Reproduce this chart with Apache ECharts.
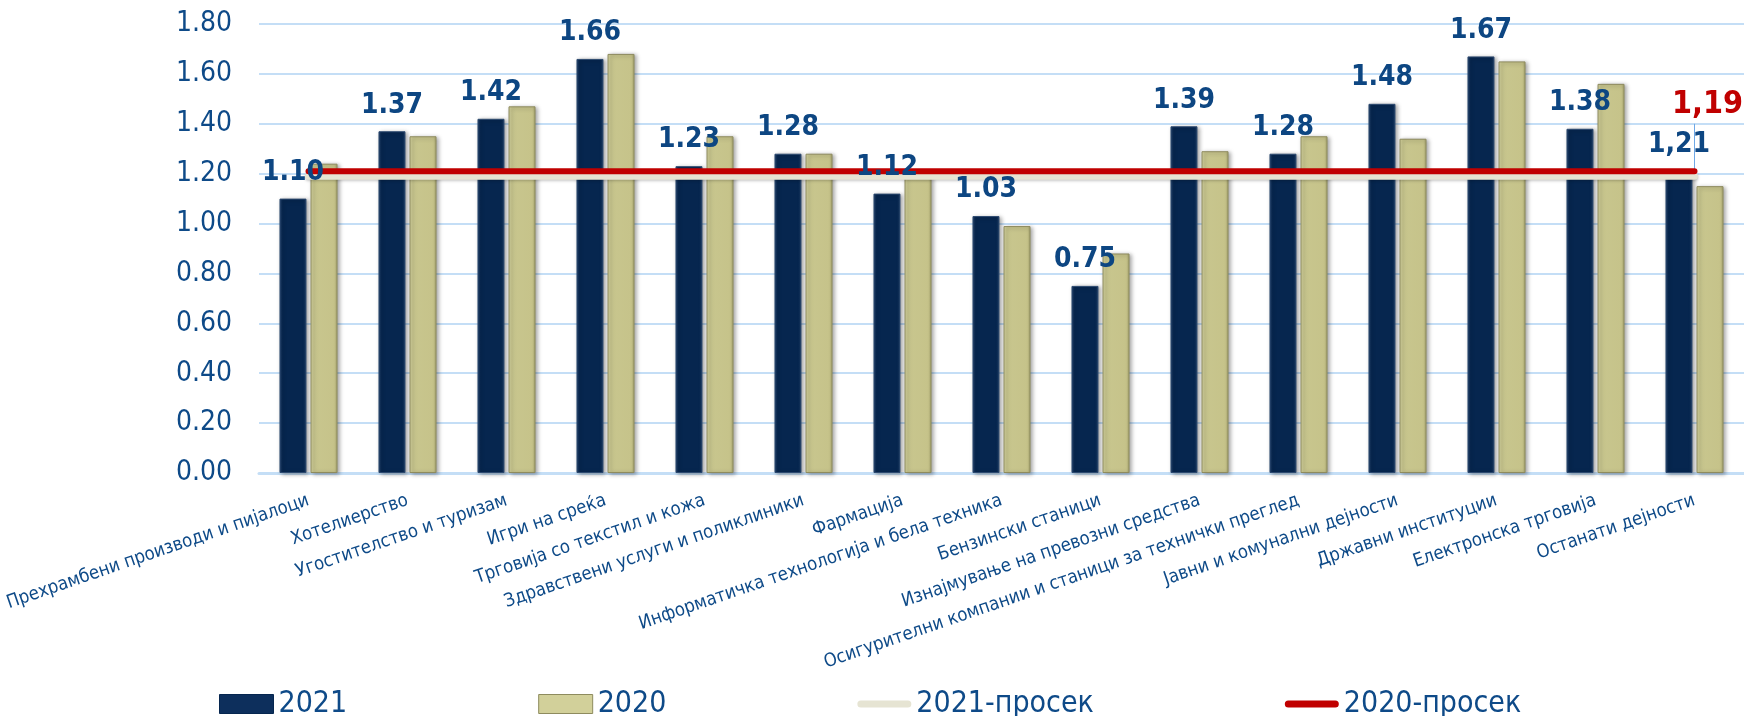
<!DOCTYPE html>
<html>
<head>
<meta charset="utf-8">
<script src="https://cdn.jsdelivr.net/npm/echarts@6/dist/echarts.min.js"></script>
<style>
html,body{margin:0;padding:0;background:#fff;}
#chart{width:1744px;height:716px;}
</style>
</head>
<body>
<div id="chart"></div>
<script>
const categories = [
  'Прехрамбени производи и пијалоци',
  'Хотелиерство',
  'Угостителство и туризам',
  'Игри на среќа',
  'Трговија со текстил и кожа',
  'Здравствени услуги и поликлиники',
  'Фармација',
  'Информатичка технологија и бела техника',
  'Бензински станици',
  'Изнајмување на превозни средства',
  'Осигурителни компании и станици за технички преглед',
  'Јавни и комунални дејности',
  'Државни институции',
  'Електронска трговија',
  'Останати дејности'
];
const values2021 = [1.10, 1.37, 1.42, 1.66, 1.23, 1.28, 1.12, 1.03, 0.75, 1.39, 1.28, 1.48, 1.67, 1.38, 1.21];
const values2020 = [1.24, 1.35, 1.47, 1.68, 1.35, 1.28, 1.19, 0.99, 0.88, 1.29, 1.35, 1.34, 1.65, 1.56, 1.15];
const labels2021 = ['1.10', '1.37', '1.42', '1.66', '1.23', '1.28', '1.12', '1.03', '0.75', '1.39', '1.28', '1.48', '1.67', '1.38', '1,21'];
const avg2021 = [1.19, 1.19, 1.19, 1.19, 1.19, 1.19, 1.19, 1.19, 1.19, 1.19, 1.19, 1.19, 1.19, 1.19, 1.19];
const avg2020 = [1.21, 1.21, 1.21, 1.21, 1.21, 1.21, 1.21, 1.21, 1.21, 1.21, 1.21, 1.21, 1.21, 1.21, 1.21];
const avg2020Label = '1,19';
const leaderTop = 1.40;
const yTicks = { min: 0, max: 1.8, interval: 0.2 };
const seriesNames = ['2021', '2020', '2021-просек', '2020-просек'];

const FONT = '"DejaVu Sans Condensed", "DejaVu Sans", sans-serif';
const TEXT = '#0e4a88';
const last = avg2020.length - 1;
const LINE_ICON = 'path://M3.5,0 H50.5 A3.5,3.5 0 0 1 50.5,7 H3.5 A3.5,3.5 0 0 1 3.5,0 Z';

const darkFill = {
  type: 'linear', x: 0, y: 0, x2: 1, y2: 0,
  colorStops: [
    { offset: 0, color: '#22426c' },
    { offset: 0.12, color: '#06264f' },
    { offset: 0.88, color: '#06264f' },
    { offset: 1, color: '#1c3a62' }
  ]
};
const oliveFill = {
  type: 'linear', x: 0, y: 0, x2: 1, y2: 0,
  colorStops: [
    { offset: 0, color: '#d8d6a2' },
    { offset: 0.12, color: '#c8c68e' },
    { offset: 0.88, color: '#c6c38a' },
    { offset: 1, color: '#a9a670' }
  ]
};

const chart = echarts.init(document.getElementById('chart'), null, { renderer: 'canvas' });
chart.setOption({
  animation: false,
  backgroundColor: '#ffffff',
  textStyle: { fontFamily: FONT },
  grid: { left: 259, top: 24, width: 1492, bottom: 243, containLabel: false },
  legend: {
    data: [
      { name: seriesNames[0], icon: 'rect', itemStyle: { color: '#0d2f5c', borderColor: '#06264f', borderWidth: 1 } },
      { name: seriesNames[1], icon: 'rect', itemStyle: { color: '#d2d09a', borderColor: '#8e8b5e', borderWidth: 1 } },
      { name: seriesNames[2], icon: LINE_ICON, itemStyle: { color: '#e6e4d3', borderWidth: 0 } },
      { name: seriesNames[3], icon: LINE_ICON, itemStyle: { color: '#c00000', borderWidth: 0 } }
    ],
    left: 214,
    top: 684,
    itemGap: 191,
    itemWidth: 54,
    itemHeight: 19,
    textStyle: { fontFamily: FONT, fontSize: 30, color: TEXT, lineHeight: 30 }
  },
  xAxis: [
    {
      type: 'category',
      data: categories,
      axisTick: { show: false },
      axisLine: { lineStyle: { color: '#c4def6', width: 3 } },
      axisLabel: {
        interval: 0,
        rotate: 19,
        margin: 27,
        fontFamily: FONT,
        fontSize: 18.5,
        color: TEXT
      }
    },
    {
      type: 'category',
      data: categories,
      show: false
    }
  ],
  yAxis: {
    type: 'value',
    min: yTicks.min,
    max: yTicks.max,
    interval: yTicks.interval,
    axisLine: { show: false },
    axisTick: { show: false },
    splitLine: { lineStyle: { color: '#c4def6', width: 2 } },
    axisLabel: {
      margin: 27,
      fontFamily: FONT,
      fontSize: 28,
      color: TEXT,
      formatter: v => v.toFixed(2)
    }
  },
  series: [
    {
      name: seriesNames[0],
      type: 'bar',
      data: values2021,
      barWidth: 27,
      barGap: '15%',
      z: 2,
      itemStyle: {
        color: darkFill,
        borderColor: '#2d4a70',
        borderWidth: 1,
        shadowBlur: 4,
        shadowOffsetX: 2,
        shadowOffsetY: 1,
        shadowColor: 'rgba(0,0,0,0.35)'
      }
    },
    {
      name: seriesNames[1],
      type: 'bar',
      data: values2020,
      barWidth: 27,
      barGap: '15%',
      z: 2,
      itemStyle: {
        color: oliveFill,
        borderColor: '#8e8b5e',
        borderWidth: 1,
        shadowBlur: 4,
        shadowOffsetX: 2,
        shadowOffsetY: 1,
        shadowColor: 'rgba(0,0,0,0.35)'
      }
    },
    {
      name: seriesNames[2],
      type: 'line',
      data: avg2021,
      symbol: 'none',
      z: 3,
      color: '#e6e4d3',
      lineStyle: {
        color: '#e6e4d3', width: 7, cap: 'round',
        shadowBlur: 3, shadowOffsetY: 1, shadowColor: 'rgba(0,0,0,0.25)'
      }
    },
    {
      name: seriesNames[3],
      type: 'line',
      data: avg2020.map((v, i) => i === last ? {
        value: v,
        label: {
          show: true,
          position: 'top',
          distance: 5,
          offset: [13, -45],
          fontFamily: FONT,
          fontSize: 32,
          fontWeight: 'bold',
          color: '#c00000',
          formatter: () => avg2020Label
        }
      } : v),
      symbol: 'circle',
      symbolSize: 0,
      showSymbol: true,
      z: 4,
      color: '#c00000',
      itemStyle: { color: '#c00000' },
      lineStyle: { color: '#c00000', width: 6, cap: 'round' },
      markLine: {
        silent: true,
        symbol: 'none',
        z: 3,
        label: { show: false },
        lineStyle: { color: '#6fa8e6', width: 1, type: 'solid' },
        data: [[
          { coord: [categories[last], avg2020[last]] },
          { coord: [categories[last], leaderTop] }
        ]]
      }
    },
    {
      name: 'labels-2021',
      type: 'bar',
      xAxisIndex: 1,
      data: values2021,
      barWidth: 27,
      barGap: '15%',
      z: 10,
      silent: true,
      itemStyle: { color: 'rgba(0,0,0,0)' },
      label: {
        show: true,
        position: 'top',
        distance: 12,
        fontFamily: FONT,
        fontSize: 28,
        fontWeight: 'bold',
        color: '#0d4682',
        formatter: p => labels2021[p.dataIndex]
      }
    },
    {
      name: 'labels-2020',
      type: 'bar',
      xAxisIndex: 1,
      data: values2020,
      barWidth: 27,
      barGap: '15%',
      z: 10,
      silent: true,
      itemStyle: { color: 'rgba(0,0,0,0)' }
    }
  ]
});
</script>
</body>
</html>
